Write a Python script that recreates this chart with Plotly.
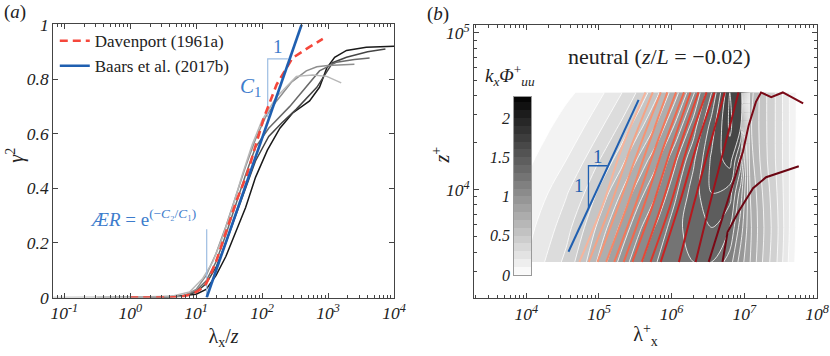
import numpy as np
import plotly.graph_objects as go

SERIF = "Liberation Serif"
BLUE = "#1f5fb0"
LBLUE = "#9dbde2"
TBLUE = "#3d7ccc"

# ---------------- panel (a): gamma^2 against lambda_x/z (x kept as log10) ----------------
dav_logx = [0, 0.3, 0.6, 0.78, 0.9, 1.0, 1.08, 1.15, 1.23, 1.31, 1.4, 1.51, 1.62, 1.77, 1.9, 2.03, 2.22, 2.46, 2.72, 2.92]
dav_g2 = [0, 0, 0, 0.003, 0.01, 0.02, 0.033, 0.05, 0.09, 0.137, 0.2, 0.28, 0.36, 0.45, 0.56, 0.66, 0.78, 0.877, 0.918, 0.947]

baars_logx = [1.16, 2.6]
baars_g2 = [0, 1]

gray_logx = [
    [0.5, 0.8, 1.0, 1.15, 1.3, 1.45, 1.6, 1.75, 1.9, 2.08, 2.27, 2.46, 2.72, 2.87, 2.98, 3.1, 3.28, 3.58, 4.0],
    [0.3, 0.8, 1.0, 1.15, 1.3, 1.45, 1.6, 1.75, 1.9, 2.1, 2.3, 2.52, 2.83, 3.07, 3.28, 3.6, 3.87],
    [0.0, 0.8, 1.0, 1.15, 1.3, 1.45, 1.6, 1.75, 1.9, 2.1, 2.42, 2.87, 3.13, 3.4, 3.63],
    [-0.5, 0.8, 1.0, 1.15, 1.3, 1.45, 1.6, 1.75, 1.9, 2.05, 2.22, 2.45, 2.67, 2.83, 3.0, 3.2, 3.4],
    [-1.17, 0.6, 0.9, 1.1, 1.25, 1.4, 1.55, 1.7, 1.85, 2.0, 2.22, 2.52, 2.77, 2.98, 3.2],
]
gray_g2 = [
    [0, 0.008, 0.012, 0.03, 0.08, 0.15, 0.24, 0.33, 0.44, 0.54, 0.62, 0.675, 0.72, 0.77, 0.84, 0.88, 0.905, 0.917, 0.92],
    [0, 0.005, 0.02, 0.05, 0.11, 0.2, 0.3, 0.4, 0.5, 0.59, 0.64, 0.69, 0.77, 0.86, 0.88, 0.9, 0.91],
    [0, 0.005, 0.025, 0.06, 0.13, 0.23, 0.34, 0.45, 0.55, 0.62, 0.70, 0.83, 0.862, 0.872, 0.877],
    [0, 0.005, 0.03, 0.08, 0.16, 0.26, 0.37, 0.48, 0.58, 0.66, 0.72, 0.79, 0.83, 0.845, 0.85, 0.853, 0.854],
    [0, 0.003, 0.02, 0.07, 0.13, 0.22, 0.33, 0.45, 0.56, 0.65, 0.735, 0.81, 0.815, 0.81, 0.786],
]
gray_cols = ["#1a1a1a", "#454545", "#6a6a6a", "#8e8e8e", "#b8b8b8"]

a_ticks = [0.1, 1, 10, 100, 1000, 10000]
a_ticktext = ["10<sup>-1</sup>", "10<sup>0</sup>", "10<sup>1</sup>", "10<sup>2</sup>", "10<sup>3</sup>", "10<sup>4</sup>"]

# slope triangle and AR marker (log10 x, gamma^2)
tri_a_x = [2.39, 2.085, 2.085]
tri_a_y = [0.874, 0.874, 0.66]
ar_x = [1.16, 1.16]
ar_y = [0.0, 0.25]

# ---------------- panel (b): premultiplied spectrogram (log10 lambda_x+, log10 z+) ----------------
lam_exp = [4.06, 4.3, 4.55, 4.8, 5.05, 5.3, 5.55, 5.8, 6.05, 6.3, 6.55, 6.8, 6.95, 7.08, 7.25, 7.45, 7.62, 7.75]
z_exp = [3.54, 3.76, 3.98, 4.19, 4.40, 4.62]
phi = [
    [0.22, 0.32, 0.43, 0.58, 0.76, 0.93, 1.08, 1.20, 1.27, 1.30, 1.30, 1.15, 0.95, 0.80, 0.60, 0.40, 0.18, 0.04],
    [0.18, 0.26, 0.36, 0.50, 0.66, 0.82, 0.98, 1.12, 1.26, 1.36, 1.40, 1.30, 1.05, 0.82, 0.62, 0.42, 0.20, 0.05],
    [0.13, 0.20, 0.29, 0.40, 0.55, 0.70, 0.86, 1.00, 1.18, 1.35, 1.50, 1.45, 1.15, 0.80, 0.60, 0.40, 0.20, 0.05],
    [0.09, 0.14, 0.20, 0.30, 0.42, 0.56, 0.72, 0.88, 1.08, 1.28, 1.52, 1.65, 1.35, 0.75, 0.56, 0.38, 0.20, 0.05],
    [0.06, 0.09, 0.14, 0.20, 0.30, 0.42, 0.57, 0.72, 0.92, 1.15, 1.45, 1.72, 1.60, 0.72, 0.55, 0.38, 0.20, 0.06],
    [0.04, 0.06, 0.08, 0.12, 0.19, 0.29, 0.42, 0.58, 0.76, 0.98, 1.30, 1.70, 1.70, 0.75, 0.55, 0.38, 0.20, 0.06],
]
b_ticks = [4, 5, 6, 7, 8]
b_ticktext = ["10<sup>4</sup>", "10<sup>5</sup>", "10<sup>6</sup>", "10<sup>7</sup>", "10<sup>8</sup>"]
bz_ticks = [4, 5]
bz_ticktext = ["10<sup>4</sup>", "10<sup>5</sup>"]

# coherence iso-lines, read as log10 lambda_x+ at four heights
red_rows = [3.54, 3.90, 4.26, 4.62]
red_lines = [
    [4.73, 5.05, 5.31, 5.64],
    [4.86, 5.16, 5.43, 5.74],
    [4.98, 5.27, 5.55, 5.85],
    [5.10, 5.39, 5.66, 5.94],
    [5.21, 5.50, 5.77, 6.06],
    [5.34, 5.62, 5.88, 6.17],
    [5.46, 5.74, 5.99, 6.26],
    [5.59, 5.86, 6.10, 6.37],
    [5.71, 5.98, 6.21, 6.48],
    [5.85, 6.10, 6.33, 6.59],
    [6.10, 6.30, 6.51, 6.73],
    [6.33, 6.52, 6.72, 6.92],
]
red13_x = [6.51, 6.70, 6.84, 6.98, 7.06, 7.16, 7.23, 7.37, 7.53, 7.81]
red13_z = [3.54, 3.82, 4.03, 4.24, 4.41, 4.56, 4.62, 4.59, 4.62, 4.55]
red14_x = [6.70, 6.77, 6.92, 7.12, 7.30, 7.48, 7.75]
red14_z = [3.54, 3.73, 3.86, 4.01, 4.08, 4.11, 4.15]
red_cols = ["#f6b49c", "#f5a386", "#f69475", "#f58667", "#f4775a", "#f1674d", "#ec5741",
            "#e54736", "#da362b", "#c92322", "#b51a1e", "#9e121b", "#7a0916", "#6b0512"]

# 1:1 line and triangle
one_x = [4.58, 5.545]
one_z = [3.605, 4.573]
tri_b_x = [5.117, 4.855, 4.855]
tri_b_z = [4.153, 4.153, 3.88]

cb_levels = np.round(np.arange(0.05, 2.3, 0.1), 2)
cb_ticks = [0, 0.5, 1, 1.5, 2]
grays = [[0, "#ffffff"], [1, "#000000"]]

fig = go.Figure()

# ---- panel (a) traces
for lx, g, c in zip(gray_logx, gray_g2, gray_cols):
    fig.add_trace(go.Scatter(x=np.power(10.0, lx), y=g, mode="lines", line=dict(color=c, width=1.5),
                             showlegend=False, hoverinfo="skip"))
fig.add_trace(go.Scatter(x=np.power(10.0, ar_x), y=ar_y, mode="lines", line=dict(color=LBLUE, width=1.2),
                         showlegend=False, hoverinfo="skip"))
fig.add_trace(go.Scatter(x=np.power(10.0, tri_a_x), y=tri_a_y, mode="lines", line=dict(color=LBLUE, width=1.2),
                         showlegend=False, hoverinfo="skip"))
fig.add_trace(go.Scatter(x=np.power(10.0, dav_logx), y=dav_g2, mode="lines", name="Davenport (1961a)",
                         line=dict(color="#f5473b", width=2.6, dash="8px,5px")))
fig.add_trace(go.Scatter(x=np.power(10.0, baars_logx), y=baars_g2, mode="lines", name="Baars et al. (2017b)",
                         line=dict(color=BLUE, width=2.6)))

# ---- panel (b) traces
fig.add_trace(go.Contour(x=lam_exp, y=z_exp, z=phi, xaxis="x2", yaxis="y2",
                         colorscale=grays, zmin=0, zmax=2.3, autocontour=False,
                         contours=dict(start=0.1, end=2.2, size=0.1, coloring="fill"),
                         line=dict(color="white", width=0.8), showscale=False, hoverinfo="skip"))
for xs, c in zip(red_lines, red_cols):
    fig.add_trace(go.Scatter(x=xs, y=red_rows, xaxis="x2", yaxis="y2", mode="lines",
                             line=dict(color=c, width=2, shape="spline"), showlegend=False, hoverinfo="skip"))
fig.add_trace(go.Scatter(x=red13_x, y=red13_z, xaxis="x2", yaxis="y2", mode="lines",
                         line=dict(color=red_cols[12], width=2), showlegend=False, hoverinfo="skip"))
fig.add_trace(go.Scatter(x=red14_x, y=red14_z, xaxis="x2", yaxis="y2", mode="lines",
                         line=dict(color=red_cols[13], width=2), showlegend=False, hoverinfo="skip"))
fig.add_trace(go.Scatter(x=one_x, y=one_z, xaxis="x2", yaxis="y2", mode="lines",
                         line=dict(color=BLUE, width=2), showlegend=False, hoverinfo="skip"))
fig.add_trace(go.Scatter(x=tri_b_x, y=tri_b_z, xaxis="x2", yaxis="y2", mode="lines",
                         line=dict(color=BLUE, width=1.3), showlegend=False, hoverinfo="skip"))

# colour bar drawn as its own little axes so the labels can sit on the left
fig.add_trace(go.Heatmap(x=[0], y=cb_levels, z=[[v] for v in cb_levels], xaxis="x3", yaxis="y3",
                         colorscale=grays, zmin=0, zmax=2.3, showscale=False, hoverinfo="skip"))

tick_font = dict(family=SERIF, size=17.5, color="#222", style="italic")
axis_common = dict(showline=True, linecolor="#444", linewidth=0.8, mirror="ticks", ticks="inside",
                   ticklen=5, tickcolor="#444", showgrid=False, zeroline=False, tickfont=tick_font,
                   automargin=False)
minor_common = dict(ticks="inside", ticklen=3, tickcolor="#444")

minor_b_x = [n + np.log10(k) for n in range(3, 8) for k in range(2, 10)]
minor_b_y = [n + np.log10(k) for n in range(3, 5) for k in range(2, 10)]

fig.update_layout(
    width=830, height=356, margin=dict(l=0, r=0, t=0, b=0, autoexpand=False),
    paper_bgcolor="white", plot_bgcolor="white",
    font=dict(family=SERIF, size=17, color="#222"),
    showlegend=True,
    legend=dict(x=0.066, y=0.935, xanchor="left", yanchor="top", bgcolor="rgba(0,0,0,0)",
                font=dict(family=SERIF, size=17, color="#222"), itemwidth=30, tracegroupgap=0),
    xaxis=dict(axis_common, type="log", range=[-1.17, 4], domain=[0.0639, 0.4747], anchor="y",
               tickvals=a_ticks, ticktext=a_ticktext,
               minor=dict(minor_common, tickvals=[k * 10.0 ** n for n in range(-2, 4) for k in range(2, 10)]),
               title=dict(text="λ<sub>x</sub>/<i>z</i>", font=dict(size=20), standoff=6)),
    yaxis=dict(axis_common, range=[0, 1], domain=[0.1643, 0.9312], anchor="x",
               tickvals=[0, 0.2, 0.4, 0.6, 0.8, 1], ticktext=["0", "0.2", "0.4", "0.6", "0.8", "1"]),
    xaxis2=dict(axis_common, range=[3.28, 8.0], domain=[0.5711, 0.9843], anchor="y2",
                tickvals=b_ticks, ticktext=b_ticktext,
                minor=dict(minor_common, tickvals=minor_b_x),
                title=dict(text="λ<sup>+</sup><sub>x</sub>", font=dict(size=20), standoff=4)),
    yaxis2=dict(axis_common, range=[3.31, 5.05], domain=[0.1629, 0.9298], anchor="x2",
                tickvals=bz_ticks, ticktext=bz_ticktext,
                minor=dict(minor_common, tickvals=minor_b_y)),
    xaxis3=dict(domain=[0.6193, 0.6398], anchor="y3", range=[-0.5, 0.5], showticklabels=False,
                ticks="", showgrid=False, zeroline=False, showline=True, linecolor="#999",
                linewidth=0.8, mirror=True, automargin=False),
    yaxis3=dict(domain=[0.2275, 0.7275], anchor="x3", range=[0, 2.27], showgrid=False, zeroline=False,
                showline=True, linecolor="#999", linewidth=0.8, mirror=True, ticks="", automargin=False,
                tickvals=cb_ticks, ticktext=[str(v) for v in cb_ticks],
                tickfont=dict(family=SERIF, size=16, color="#222", style="italic")),
)


def paper_text(x, y, text, size, **kw):
    return dict(x=x, y=y, xref="paper", yref="paper", text=text, showarrow=False,
                xanchor=kw.pop("xanchor", "center"), yanchor="middle", font=dict(size=size), **kw)


ann = [
    paper_text(0.018, 0.966, "(<i>a</i>)", 19),
    paper_text(0.528, 0.961, "(<i>b</i>)", 19),
    paper_text(0.019, 0.565, "<i>γ</i><sup>2</sup>", 20, textangle=-90),
    paper_text(0.531, 0.565, "<i>z</i><sup>+</sup>", 20, textangle=-90),
    paper_text(0.794, 0.840, "neutral (<i>z</i>/<i>L</i> = −0.02)", 22),
    paper_text(0.582, 0.789, "<i>k<sub>x</sub>Φ</i><sup>+</sup><sub><i>uu</i></sub>", 19, xanchor="left"),
    dict(x=2.24, y=0.92, xref="x", yref="y", text="1", showarrow=False,
         font=dict(size=19, color=TBLUE)),
    dict(x=1.83, y=0.77, xref="x", yref="y", text="<i>C</i><sub>1</sub>", showarrow=False,
         font=dict(size=21, color=TBLUE)),
    dict(x=0.2, y=0.29, xref="x", yref="y",
         text="<i>ÆR</i> = e<sup>(−<i>C</i>₂/<i>C</i>₁)</sup>", showarrow=False,
         font=dict(size=19, color=TBLUE)),
    dict(x=4.99, y=4.21, xref="x2", yref="y2", text="1", showarrow=False,
         font=dict(size=19, color=BLUE)),
    dict(x=4.72, y=4.03, xref="x2", yref="y2", text="1", showarrow=False,
         font=dict(size=19, color=BLUE)),
]
fig.update_layout(annotations=ann)

fig.write_html("out.html", config={"displayModeBar": False},
               post_script="document.body.style.margin='0px';")
